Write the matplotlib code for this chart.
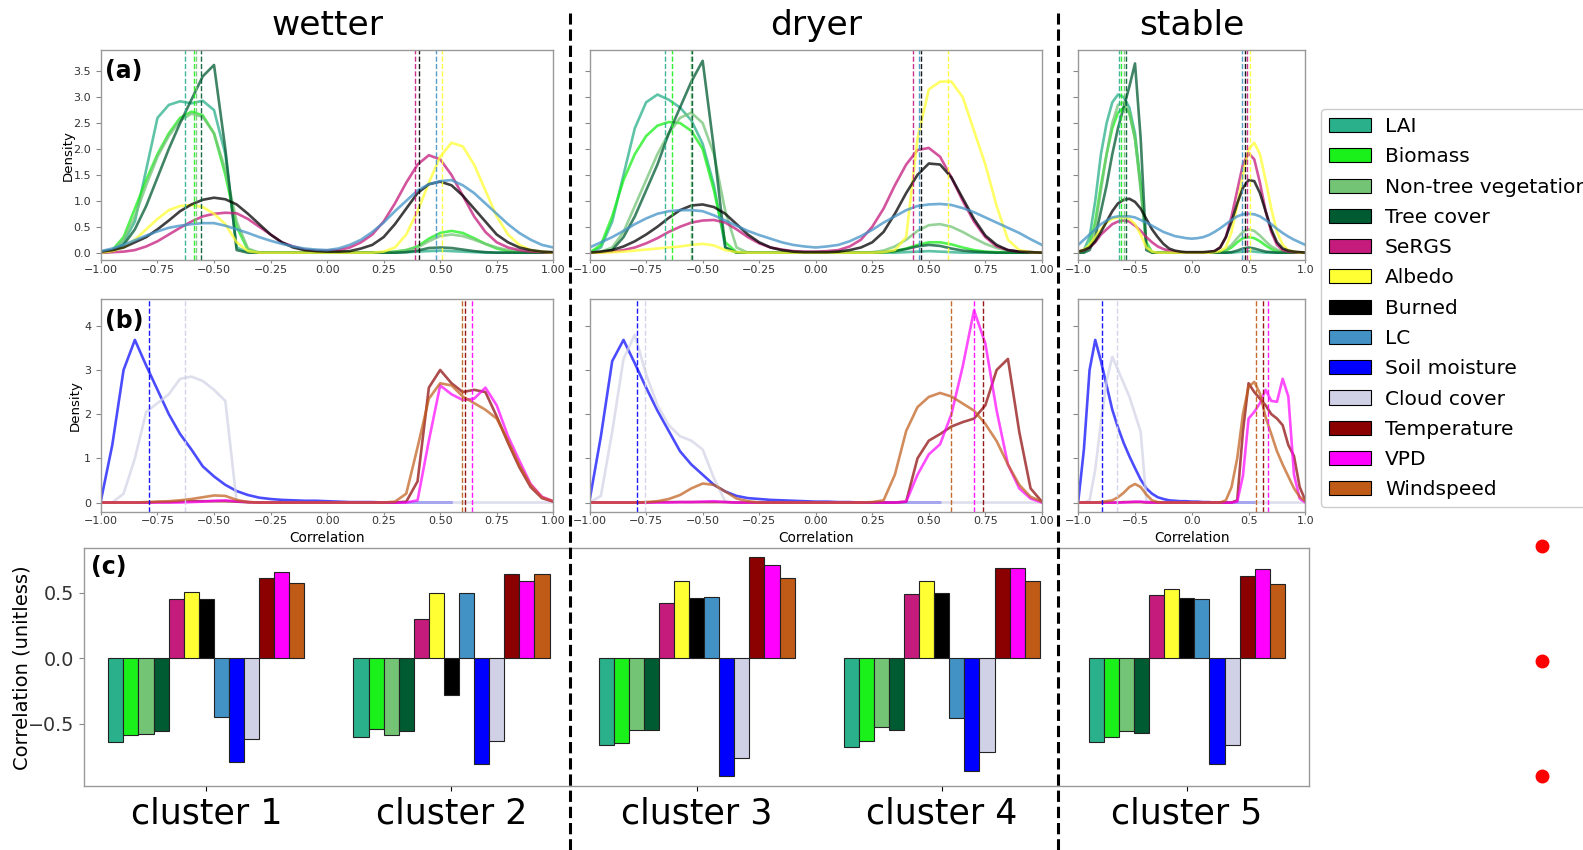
import numpy as np
import matplotlib
matplotlib.use("Agg")
import matplotlib.pyplot as plt
from matplotlib.patches import Patch
from matplotlib.lines import Line2D

# Variables (legend order) and colours
variables = ["LAI", "Biomass", "Non-tree vegetation", "Tree cover", "SeRGS", "Albedo",
             "Burned", "LC", "Soil moisture", "Cloud cover", "Temperature", "VPD", "Windspeed"]
var_colors = ["#2ab08a", "#1af01a", "#74c476", "#005a32", "#c51b7d", "#ffff33",
              "#000000", "#4292c6", "#0000ff", "#d0d1e6", "#8b0000", "#ff00ff", "#bf5b17"]

groups = ["wetter", "dryer", "stable"]
clusters = ["cluster 1", "cluster 2", "cluster 3", "cluster 4", "cluster 5"]

# Correlation grid on which the densities were read
corr_grid = [-1.0, -0.95, -0.9, -0.85, -0.8, -0.75, -0.7, -0.65, -0.6, -0.55,
             -0.5, -0.45, -0.4, -0.35, -0.3, -0.25, -0.2, -0.15, -0.1, -0.05,
             0.0, 0.05, 0.1, 0.15, 0.2, 0.25, 0.3, 0.35, 0.4, 0.45,
             0.5, 0.55, 0.6, 0.65, 0.7, 0.75, 0.8, 0.85, 0.9, 0.95, 1.0]

# ---- panel (a) densities: wetter ----
wet_a_lai = [0, 0.03, 0.2, 0.6, 1.6, 2.6, 2.85, 2.92, 2.88, 2.93,
             2.75, 1.9, 0.1, 0.01, 0, 0, 0, 0, 0, 0,
             0, 0, 0, 0, 0, 0, 0, 0.01, 0.02, 0.03,
             0.04, 0.03, 0.02, 0.01, 0, 0, 0, 0, 0, 0, 0]
wet_a_biomass = [0, 0.05, 0.3, 0.85, 1.4, 1.9, 2.3, 2.6, 2.72, 2.65,
                 2.3, 1.5, 0.5, 0.05, 0, 0, 0, 0, 0, 0,
                 0, 0, 0, 0, 0, 0, 0.02, 0.05, 0.12, 0.27,
                 0.38, 0.42, 0.38, 0.28, 0.17, 0.08, 0.03, 0.01, 0, 0, 0]
wet_a_nontree = [0, 0.04, 0.25, 0.7, 1.3, 1.85, 2.25, 2.55, 2.68, 2.62,
                 2.3, 1.6, 0.6, 0.08, 0, 0, 0, 0, 0, 0,
                 0, 0, 0, 0, 0, 0, 0.02, 0.05, 0.1, 0.22,
                 0.32, 0.35, 0.32, 0.25, 0.17, 0.1, 0.05, 0.02, 0.01, 0, 0]
wet_a_tree = [0, 0.02, 0.15, 0.45, 0.9, 1.45, 2.0, 2.5, 2.95, 3.4,
              3.62, 2.0, 0.05, 0, 0, 0, 0, 0, 0, 0,
              0, 0, 0, 0, 0, 0, 0, 0.01, 0.04, 0.09,
              0.1, 0.09, 0.06, 0.03, 0.01, 0, 0, 0, 0, 0, 0]
wet_a_sergs = [0, 0.01, 0.02, 0.05, 0.12, 0.22, 0.35, 0.48, 0.6, 0.7,
               0.75, 0.77, 0.76, 0.65, 0.5, 0.35, 0.2, 0.12, 0.06, 0.04,
               0.04, 0.05, 0.1, 0.2, 0.35, 0.6, 0.95, 1.35, 1.7, 1.88,
               1.8, 1.5, 1.1, 0.7, 0.4, 0.2, 0.1, 0.05, 0.02, 0.01, 0]
wet_a_albedo = [0, 0.03, 0.1, 0.25, 0.45, 0.65, 0.82, 0.9, 0.92, 0.88,
                0.75, 0.55, 0.2, 0.03, 0, 0, 0, 0, 0, 0,
                0, 0, 0, 0, 0, 0.02, 0.1, 0.35, 0.8, 1.35,
                1.85, 2.12, 2.05, 1.7, 1.2, 0.7, 0.35, 0.15, 0.05, 0.02, 0]
wet_a_burned = [0.02, 0.05, 0.1, 0.2, 0.3, 0.45, 0.62, 0.8, 0.93, 1.02,
                1.06, 1.03, 0.93, 0.75, 0.55, 0.35, 0.2, 0.1, 0.05, 0.03,
                0.02, 0.02, 0.03, 0.08, 0.15, 0.3, 0.55, 0.85, 1.15, 1.32,
                1.37, 1.3, 1.1, 0.85, 0.6, 0.35, 0.2, 0.1, 0.05, 0.02, 0.01]
wet_a_lc = [0.03, 0.08, 0.15, 0.24, 0.33, 0.41, 0.48, 0.52, 0.55, 0.57,
            0.57, 0.52, 0.45, 0.38, 0.3, 0.23, 0.17, 0.12, 0.08, 0.06,
            0.05, 0.08, 0.15, 0.25, 0.4, 0.58, 0.8, 1.0, 1.2, 1.32,
            1.38, 1.4, 1.3, 1.15, 0.95, 0.75, 0.55, 0.38, 0.25, 0.15, 0.1]

# ---- panel (a) densities: dryer ----
dry_a_lai = [0, 0.1, 0.6, 1.5, 2.4, 2.9, 3.05, 2.95, 2.8, 2.55,
             2.1, 1.3, 0.1, 0, 0, 0, 0, 0, 0, 0,
             0, 0, 0, 0, 0, 0, 0, 0, 0.01, 0.02,
             0.03, 0.02, 0.01, 0, 0, 0, 0, 0, 0, 0, 0]
dry_a_biomass = [0, 0.15, 0.7, 1.4, 1.9, 2.25, 2.45, 2.52, 2.5, 2.35,
                 2.0, 1.2, 0.2, 0.01, 0, 0, 0, 0, 0, 0,
                 0, 0, 0, 0, 0, 0, 0.01, 0.03, 0.08, 0.15,
                 0.2, 0.2, 0.16, 0.1, 0.05, 0.02, 0.01, 0, 0, 0, 0]
dry_a_nontree = [0, 0.02, 0.1, 0.4, 0.9, 1.4, 1.9, 2.3, 2.6, 2.7,
                 2.5, 1.9, 0.8, 0.1, 0, 0, 0, 0, 0, 0,
                 0, 0, 0, 0, 0, 0.01, 0.04, 0.12, 0.25, 0.42,
                 0.53, 0.55, 0.5, 0.4, 0.28, 0.17, 0.09, 0.04, 0.02, 0.01, 0]
dry_a_tree = [0, 0.01, 0.05, 0.3, 0.7, 1.2, 1.7, 2.3, 2.8, 3.3,
              3.7, 2.0, 0.1, 0, 0, 0, 0, 0, 0, 0,
              0, 0, 0, 0, 0, 0, 0.01, 0.03, 0.07, 0.12,
              0.15, 0.13, 0.08, 0.04, 0.02, 0.01, 0, 0, 0, 0, 0]
dry_a_sergs = [0, 0.01, 0.02, 0.05, 0.1, 0.18, 0.28, 0.4, 0.5, 0.58,
               0.62, 0.63, 0.58, 0.45, 0.3, 0.18, 0.1, 0.06, 0.03, 0.02,
               0.02, 0.03, 0.05, 0.12, 0.25, 0.5, 0.85, 1.3, 1.7, 1.98,
               2.02, 1.85, 1.45, 1.0, 0.6, 0.3, 0.12, 0.05, 0.02, 0.01, 0]
dry_a_albedo = [0, 0, 0.01, 0.02, 0.04, 0.06, 0.08, 0.1, 0.12, 0.15,
                0.17, 0.14, 0.05, 0.01, 0, 0, 0, 0, 0, 0,
                0, 0, 0, 0, 0, 0, 0.01, 0.05, 0.3, 2.2,
                3.15, 3.3, 3.3, 3.0, 2.35, 1.7, 0.9, 0.25, 0.05, 0.01, 0]
dry_a_burned = [0, 0.02, 0.05, 0.12, 0.22, 0.35, 0.5, 0.67, 0.82, 0.91,
                0.93, 0.88, 0.75, 0.55, 0.35, 0.2, 0.1, 0.05, 0.02, 0.01,
                0.01, 0.01, 0.02, 0.05, 0.1, 0.2, 0.4, 0.75, 1.15, 1.5,
                1.72, 1.7, 1.45, 1.05, 0.65, 0.33, 0.15, 0.05, 0.02, 0.01, 0]
dry_a_lc = [0.1, 0.2, 0.3, 0.42, 0.55, 0.66, 0.75, 0.8, 0.82, 0.82,
            0.8, 0.72, 0.62, 0.52, 0.42, 0.34, 0.27, 0.2, 0.15, 0.12,
            0.1, 0.12, 0.15, 0.22, 0.32, 0.44, 0.58, 0.7, 0.82, 0.9,
            0.93, 0.94, 0.92, 0.86, 0.78, 0.68, 0.58, 0.48, 0.38, 0.26, 0.15]

# ---- panel (a) densities: stable ----
sta_a_lai = [0, 0.05, 0.3, 1.0, 1.9, 2.5, 2.9, 3.05, 3.0, 2.8,
             2.3, 1.3, 0.1, 0, 0, 0, 0, 0, 0, 0,
             0, 0, 0, 0, 0, 0, 0, 0, 0.01, 0.02,
             0.03, 0.02, 0.01, 0, 0, 0, 0, 0, 0, 0, 0]
sta_a_biomass = [0, 0.02, 0.15, 0.6, 1.3, 1.9, 2.4, 2.7, 2.8, 2.7,
                 2.2, 1.3, 0.2, 0.01, 0, 0, 0, 0, 0, 0,
                 0, 0, 0, 0, 0, 0.01, 0.04, 0.1, 0.2, 0.28,
                 0.3, 0.28, 0.22, 0.14, 0.07, 0.03, 0.01, 0, 0, 0, 0]
sta_a_nontree = [0, 0.01, 0.1, 0.5, 1.2, 1.9, 2.5, 2.85, 2.9, 2.7,
                 2.2, 1.2, 0.15, 0.01, 0, 0, 0, 0, 0, 0,
                 0, 0, 0, 0, 0, 0.02, 0.06, 0.15, 0.28, 0.4,
                 0.45, 0.42, 0.33, 0.22, 0.12, 0.06, 0.02, 0.01, 0, 0, 0]
sta_a_tree = [0, 0, 0.05, 0.3, 0.8, 1.3, 1.9, 2.4, 2.8, 3.2,
              3.65, 2.2, 0.05, 0, 0, 0, 0, 0, 0, 0,
              0, 0, 0, 0, 0, 0, 0, 0.01, 0.04, 0.08,
              0.1, 0.08, 0.05, 0.02, 0.01, 0, 0, 0, 0, 0, 0]
sta_a_sergs = [0.02, 0.05, 0.1, 0.2, 0.35, 0.45, 0.55, 0.6, 0.62, 0.6,
               0.52, 0.42, 0.3, 0.2, 0.12, 0.07, 0.04, 0.02, 0.01, 0,
               0, 0, 0, 0.01, 0.03, 0.1, 0.3, 0.7, 1.2, 1.7,
               1.92, 1.8, 1.35, 0.8, 0.4, 0.15, 0.05, 0.02, 0.01, 0, 0]
sta_a_albedo = [0.02, 0.06, 0.15, 0.3, 0.45, 0.58, 0.65, 0.68, 0.68, 0.65,
                0.55, 0.35, 0.1, 0.02, 0, 0, 0, 0, 0, 0,
                0, 0, 0, 0, 0.01, 0.03, 0.1, 0.4, 0.9, 1.5,
                2.0, 2.12, 1.9, 1.4, 0.85, 0.4, 0.15, 0.05, 0.02, 0, 0]
sta_a_burned = [0.02, 0.05, 0.1, 0.22, 0.4, 0.6, 0.8, 0.95, 1.02, 1.04,
                0.98, 0.85, 0.65, 0.45, 0.3, 0.17, 0.08, 0.04, 0.02, 0.01,
                0.01, 0.01, 0.01, 0.02, 0.03, 0.1, 0.3, 0.6, 0.95, 1.25,
                1.4, 1.38, 1.15, 0.8, 0.45, 0.2, 0.08, 0.04, 0.02, 0.01, 0]
sta_a_lc = [0.15, 0.25, 0.35, 0.45, 0.55, 0.62, 0.68, 0.7, 0.7, 0.7,
            0.68, 0.63, 0.58, 0.52, 0.46, 0.4, 0.36, 0.32, 0.3, 0.28,
            0.27, 0.28, 0.3, 0.34, 0.4, 0.47, 0.55, 0.63, 0.7, 0.74,
            0.75, 0.74, 0.7, 0.63, 0.55, 0.46, 0.38, 0.31, 0.25, 0.2, 0.15]

# ---- panel (b) densities (soil moisture data stop near 0.57) ----
wet_b_soil = [0.05, 1.3, 3.0, 3.68, 3.1, 2.55, 2.0, 1.55, 1.2, 0.82,
              0.59, 0.4, 0.26, 0.17, 0.11, 0.08, 0.06, 0.05, 0.04, 0.04,
              0.03, 0.02, 0.01, 0.01, 0.01, 0, 0, 0, 0, 0,
              0, 0, None, None, None, None, None, None, None, None, None]
wet_b_cloud = [0, 0, 0.2, 1.0, 2.05, 2.25, 2.45, 2.8, 2.85, 2.75,
               2.55, 2.3, 0.02, 0, 0, 0, 0, 0, 0, 0,
               0, 0, 0, 0, 0, 0, 0, 0, 0, 0,
               0, 0, 0, 0, 0, 0, 0, 0, 0, 0, 0]
wet_b_temp = [0, 0, 0, 0, 0, 0.01, 0.01, 0.02, 0.03, 0.03,
              0.03, 0.03, 0.02, 0.01, 0, 0, 0, 0, 0, 0,
              0, 0, 0, 0, 0, 0, 0, 0.02, 0.48, 2.6,
              3.0, 2.7, 2.5, 2.55, 2.5, 1.95, 1.35, 0.8, 0.35, 0.1, 0.02]
wet_b_vpd = [0, 0, 0, 0, 0, 0, 0, 0, 0.01, 0.02,
             0.04, 0.05, 0.03, 0.01, 0, 0, 0, 0, 0, 0,
             0, 0, 0, 0, 0, 0, 0, 0, 0.05, 1.4,
             2.65, 2.45, 2.32, 2.35, 2.6, 2.2, 1.5, 0.95, 0.42, 0.13, 0.03]
wet_b_wind = [0, 0, 0, 0, 0.01, 0.02, 0.03, 0.05, 0.08, 0.12,
              0.16, 0.15, 0.06, 0.01, 0, 0, 0, 0, 0, 0,
              0, 0, 0, 0, 0, 0, 0.02, 0.2, 1.25, 2.35,
              2.7, 2.65, 2.4, 2.25, 2.1, 1.9, 1.4, 0.85, 0.4, 0.12, 0.03]

dry_b_soil = [0.05, 1.5, 3.2, 3.68, 3.15, 2.6, 2.08, 1.62, 1.16, 0.86,
              0.63, 0.4, 0.25, 0.15, 0.1, 0.08, 0.06, 0.05, 0.04, 0.03,
              0.02, 0.02, 0.01, 0.01, 0, 0, 0, 0, 0, 0,
              0, 0, None, None, None, None, None, None, None, None, None]
dry_b_cloud = [0, 0.15, 1.6, 3.25, 3.8, 2.9, 2.2, 1.75, 1.5, 1.4,
               1.2, 0.55, 0.02, 0, 0, 0, 0, 0, 0, 0,
               0, 0, 0, 0, 0, 0, 0, 0, 0, 0,
               0, 0, 0, 0, 0, 0, 0, 0, 0, 0, 0]
dry_b_temp = [0, 0, 0, 0, 0, 0, 0.01, 0.01, 0.01, 0.01,
              0.01, 0.01, 0.01, 0, 0, 0, 0, 0, 0, 0,
              0, 0, 0, 0, 0, 0, 0, 0, 0.02, 1.0,
              1.4, 1.55, 1.72, 1.82, 1.9, 2.2, 3.0, 3.25, 1.6, 0.32, 0.02]
dry_b_vpd = [0, 0, 0, 0, 0, 0, 0, 0, 0.01, 0.01,
             0.02, 0.03, 0.01, 0, 0, 0, 0, 0, 0, 0,
             0, 0, 0, 0, 0, 0, 0, 0, 0.02, 0.63,
             1.09, 1.32, 2.0, 3.08, 4.35, 3.6, 2.08, 0.86, 0.32, 0.09, 0]
dry_b_wind = [0, 0, 0, 0, 0, 0.01, 0.03, 0.08, 0.17, 0.32,
              0.43, 0.4, 0.25, 0.09, 0.03, 0, 0, 0, 0, 0,
              0, 0, 0, 0, 0, 0.01, 0.05, 0.63, 1.62, 2.16,
              2.39, 2.48, 2.4, 2.24, 2.08, 1.78, 1.39, 0.86, 0.4, 0.13, 0.02]

sta_b_soil = [0.02, 1.2, 3.0, 3.68, 3.2, 2.65, 2.1, 1.7, 1.35, 1.05,
              0.78, 0.52, 0.32, 0.2, 0.12, 0.08, 0.05, 0.04, 0.03, 0.03,
              0.02, 0.02, 0.01, 0.01, 0, 0, 0, 0, 0, 0,
              0, 0, None, None, None, None, None, None, None, None, None]
sta_b_cloud = [0, 0, 0.05, 0.75, 1.8, 2.75, 3.3, 3.0, 2.7, 2.4,
               2.0, 1.6, 0.05, 0, 0, 0, 0, 0, 0, 0,
               0, 0, 0, 0, 0, 0, 0, 0, 0, 0,
               0, 0, 0, 0, 0, 0, 0, 0, 0, 0, 0]
sta_b_temp = [0, 0, 0, 0, 0, 0, 0, 0, 0.01, 0.01,
              0.01, 0.01, 0, 0, 0, 0, 0, 0, 0, 0,
              0, 0, 0, 0, 0, 0, 0, 0, 0.05, 1.6,
              2.7, 2.5, 2.35, 2.2, 2.0, 1.9, 1.75, 1.3, 1.05, 0.35, 0.05]
sta_b_vpd = [0, 0, 0, 0, 0, 0, 0, 0, 0, 0.01,
             0.02, 0.02, 0.01, 0, 0, 0, 0, 0, 0, 0,
             0, 0, 0, 0, 0, 0, 0, 0, 0.02, 0.6,
             1.9, 2.05, 2.25, 2.55, 2.3, 2.28, 2.8, 2.4, 0.63, 0.09, 0]
sta_b_wind = [0, 0, 0, 0, 0.01, 0.03, 0.05, 0.12, 0.22, 0.35,
              0.42, 0.35, 0.18, 0.05, 0.01, 0, 0, 0, 0, 0,
              0, 0, 0, 0, 0, 0, 0.05, 0.35, 1.0, 2.0,
              2.62, 2.73, 2.47, 1.93, 1.55, 1.16, 0.86, 0.59, 0.32, 0.13, 0.03]

# Medians (dashed lines), same variable order as the densities
wet_a_median = [-0.627, -0.589, -0.58, -0.559, 0.388, 0.506, 0.408, 0.482]
dry_a_median = [-0.667, -0.637, -0.553, -0.546, 0.428, 0.587, 0.464, 0.457]
sta_a_median = [-0.644, -0.624, -0.6, -0.58, 0.487, 0.51, 0.467, 0.446]
wet_b_median = [-0.789, -0.627, 0.61, 0.642, 0.597]
dry_b_median = [-0.789, -0.754, 0.74, 0.699, 0.596]
sta_b_median = [-0.793, -0.66, 0.625, 0.675, 0.563]

# Panel (c): correlation per cluster, legend order
bars_cluster1 = [-0.64, -0.59, -0.58, -0.56, 0.45, 0.505, 0.45, -0.45, -0.79, -0.62, 0.61, 0.655, 0.575]
bars_cluster2 = [-0.60, -0.54, -0.59, -0.56, 0.30, 0.50, -0.28, 0.50, -0.81, -0.63, 0.64, 0.59, 0.64]
bars_cluster3 = [-0.66, -0.65, -0.55, -0.55, 0.42, 0.59, 0.46, 0.47, -0.90, -0.76, 0.77, 0.71, 0.61]
bars_cluster4 = [-0.68, -0.63, -0.53, -0.55, 0.49, 0.59, 0.50, -0.46, -0.86, -0.72, 0.69, 0.69, 0.59]
bars_cluster5 = [-0.64, -0.60, -0.56, -0.57, 0.48, 0.53, 0.46, 0.45, -0.81, -0.66, 0.63, 0.68, 0.57]

curves_a = [[wet_a_lai, wet_a_biomass, wet_a_nontree, wet_a_tree, wet_a_sergs, wet_a_albedo, wet_a_burned, wet_a_lc],
            [dry_a_lai, dry_a_biomass, dry_a_nontree, dry_a_tree, dry_a_sergs, dry_a_albedo, dry_a_burned, dry_a_lc],
            [sta_a_lai, sta_a_biomass, sta_a_nontree, sta_a_tree, sta_a_sergs, sta_a_albedo, sta_a_burned, sta_a_lc]]
curves_b = [[wet_b_soil, wet_b_cloud, wet_b_temp, wet_b_vpd, wet_b_wind],
            [dry_b_soil, dry_b_cloud, dry_b_temp, dry_b_vpd, dry_b_wind],
            [sta_b_soil, sta_b_cloud, sta_b_temp, sta_b_vpd, sta_b_wind]]
medians_a = [wet_a_median, dry_a_median, sta_a_median]
medians_b = [wet_b_median, dry_b_median, sta_b_median]
bars = [bars_cluster1, bars_cluster2, bars_cluster3, bars_cluster4, bars_cluster5]

colors_a = var_colors[:8]
colors_b = var_colors[8:]

# ---------------------------------------------------------------
fig = plt.figure(figsize=(15.83, 8.5), dpi=100)
plt.rcParams["font.family"] = ["DejaVu Sans"]

# layout measured on a 1568 x 842 view of the reference
W, H = 1568, 842


def add_px_axes(left, top, right, bottom):
    return fig.add_axes([left / W, 1 - bottom / H, (right - left) / W, (bottom - top) / H])


def style_axes(ax, labelsize=8):
    for s in ax.spines.values():
        s.set_color("#9a9a9a")
        s.set_linewidth(1.0)
    ax.tick_params(labelsize=labelsize, colors="#333333", color="#888888")


def density_xticks(ax, i):
    if i < 2:
        ax.set_xticks([-1.0, -0.75, -0.5, -0.25, 0.0, 0.25, 0.5, 0.75, 1.0])
        ax.set_xticklabels(["\u22121.00", "\u22120.75", "\u22120.50", "\u22120.25", "0.00",
                            "0.25", "0.50", "0.75", "1.00"])
    else:
        ax.set_xticks([-1.0, -0.5, 0.0, 0.5, 1.0])
        ax.set_xticklabels(["\u22121.0", "\u22120.5", "0.0", "0.5", "1.0"])
    ax.tick_params(axis="x", length=2.5, pad=0.8)


col_edges = [(100, 548), (584, 1032), (1068, 1293)]
grid = np.array(corr_grid)

for i, (l, r) in enumerate(col_edges):
    # panel (a)
    ax = add_px_axes(l, 50, r, 258)
    for y, c in zip(curves_a[i], colors_a):
        ax.plot(grid, np.array(y, dtype=float), color=c, lw=1.9, alpha=0.75,
                solid_joinstyle="round")
    for m, c in zip(medians_a[i], colors_a):
        ax.axvline(m, color=c, ls="--", lw=1.0, alpha=0.9)
    ax.set_xlim(-1, 1)
    ax.set_ylim(-0.15, 3.9)
    ax.set_yticks([0.0, 0.5, 1.0, 1.5, 2.0, 2.5, 3.0, 3.5])
    style_axes(ax)
    density_xticks(ax, i)
    if i == 0:
        ax.set_ylabel("Density", fontsize=9.6, labelpad=-1)
        ax.text(0.01, 0.9, "(a)", transform=ax.transAxes, fontsize=17,
                fontweight="bold", va="center", ha="left")
    else:
        ax.tick_params(labelleft=False)
    fig.text((l + r) / 2 / W, 1 - 25 / H, groups[i], fontsize=24.8,
             ha="center", va="center")

    # panel (b)
    ax = add_px_axes(l, 296, r, 507)
    for y, c in zip(curves_b[i], colors_b):
        ax.plot(grid, np.array(y, dtype=float), color=c, lw=1.9, alpha=0.7,
                solid_joinstyle="round")
    for m, c in zip(medians_b[i], colors_b):
        ax.axvline(m, color=c, ls="--", lw=1.0, alpha=0.9)
    ax.set_xlim(-1, 1)
    ax.set_ylim(-0.21, 4.61)
    ax.set_yticks([0, 1, 2, 3, 4])
    style_axes(ax)
    density_xticks(ax, i)
    ax.set_xlabel("Correlation", fontsize=9.8, labelpad=3)
    if i == 0:
        ax.set_ylabel("Density", fontsize=9.6, labelpad=2)
        ax.text(0.01, 0.895, "(b)", transform=ax.transAxes, fontsize=17,
                fontweight="bold", va="center", ha="left")
    else:
        ax.tick_params(labelleft=False)

# panel (c): grouped bars
axc = add_px_axes(83, 543, 1297, 779)
n_var = len(variables)
bar_w = 0.8 / n_var
for k, vals in enumerate(bars):
    xs = k - 0.4 + bar_w * (np.arange(n_var) + 0.5)
    axc.bar(xs, vals, width=bar_w, color=var_colors, edgecolor="#222222", linewidth=0.8)
axc.set_xlim(-0.5, 4.5)
axc.set_ylim(-0.98, 0.84)
axc.set_yticks([-0.5, 0.0, 0.5])
axc.set_yticklabels(["\u22120.5", "0.0", "0.5"])
axc.set_xticks(range(len(clusters)))
axc.set_xticklabels(clusters)
style_axes(axc, labelsize=13.8)
axc.tick_params(axis="x", labelsize=25, colors="black", pad=4)
axc.set_ylabel("Correlation (unitless)", fontsize=14, labelpad=-3)
axc.text(0.006, 0.92, "(c)", transform=axc.transAxes, fontsize=17,
         fontweight="bold", va="center", ha="left")

# separators between wetter / dryer / stable
for xs in (565, 1048):
    fig.add_artist(Line2D([xs / W, xs / W], [0, 0.985], color="black", lw=2.2, ls="--"))

# legend
handles = [Patch(facecolor=c, edgecolor="black", linewidth=0.8, label=v)
           for v, c in zip(variables, var_colors)]
fig.legend(handles=handles, loc="upper left", bbox_to_anchor=(1308 / W, 1 - 108 / H),
           borderaxespad=0, fontsize=14.5, handlelength=2.1, handleheight=0.7,
           handletextpad=0.7, labelspacing=0.56, borderpad=0.4, frameon=True,
           edgecolor="#cccccc", fancybox=True, framealpha=1)

# red markers on the right
for yp in (541, 655, 769):
    fig.add_artist(Line2D([1527 / W], [1 - yp / H], marker="o", markersize=9,
                          color="red", ls="none"))

fig.savefig("out.png", dpi=100)
